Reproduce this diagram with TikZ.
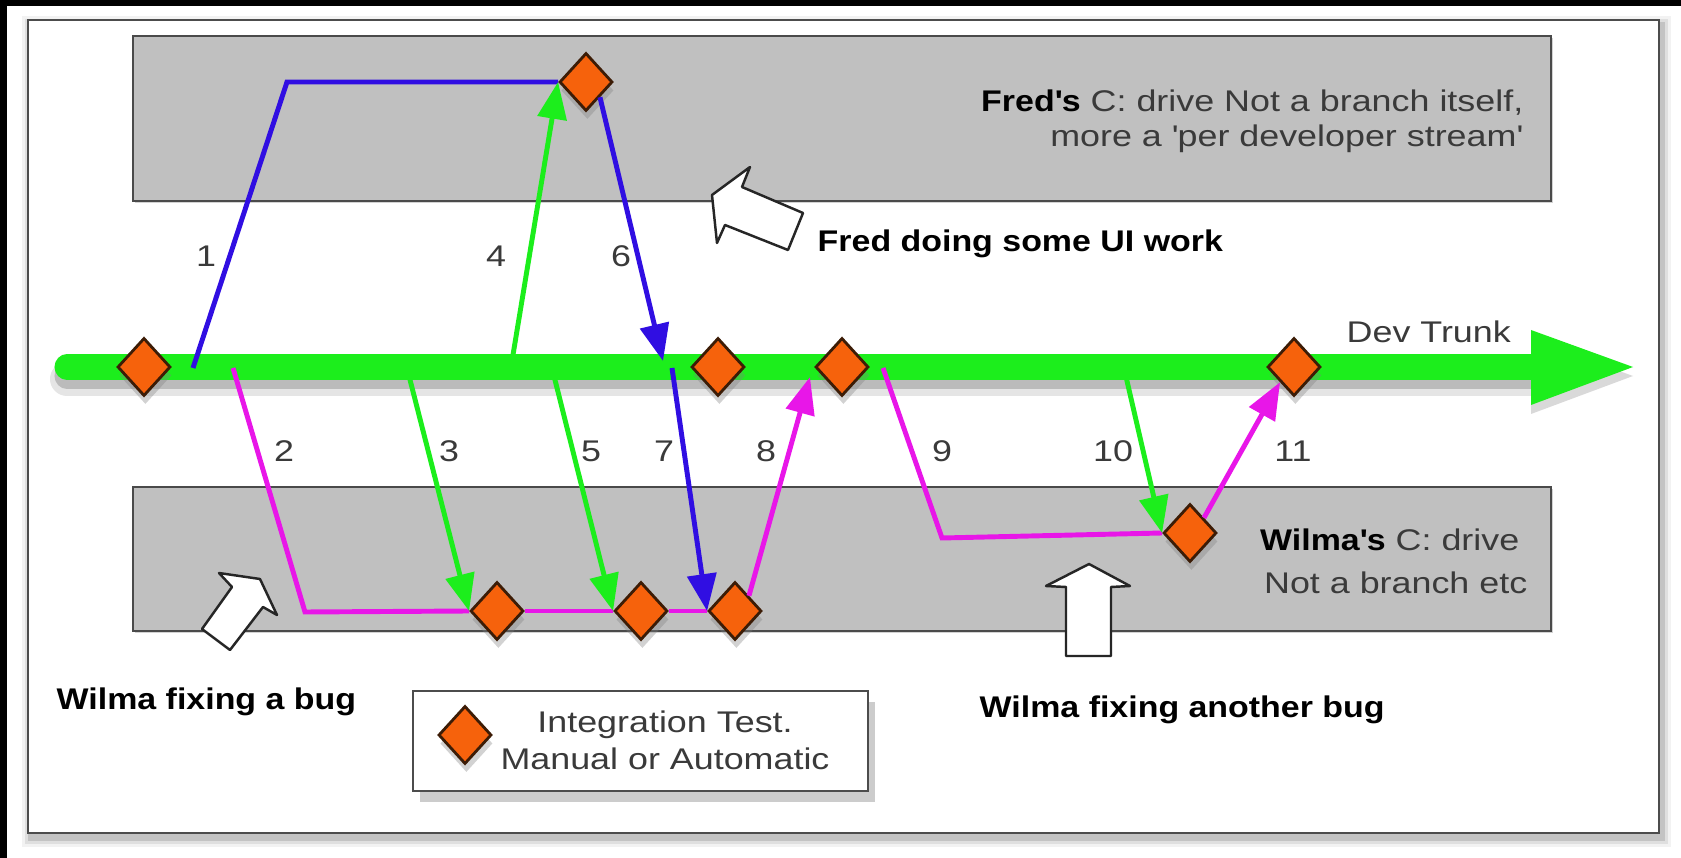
\documentclass[tikz,border=0pt]{standalone}
\usepackage{fontspec}
\setmainfont[FakeStretch=1.2, BoldFeatures={FakeStretch=1.135}]{Liberation Sans}
\usetikzlibrary{arrows.meta,shapes.geometric,shadows}

\definecolor{trunkgreen}{RGB}{28,238,28}
\definecolor{fixpink}{RGB}{232,22,232}
\definecolor{uiblue}{RGB}{48,14,226}
\definecolor{drivegray}{RGB}{192,192,192}
\definecolor{driveedge}{RGB}{74,74,74}
\definecolor{testorange}{RGB}{246,98,12}
\definecolor{testedge}{RGB}{60,28,6}
\definecolor{labelgray}{RGB}{58,58,58}

\newcommand{\plainsize}{\fontsize{8.5pt}{10pt}\selectfont}

\tikzset{
  drive/.style={draw=driveedge, fill=drivegray, line width=0.8pt,
    drop shadow={shadow xshift=0.7pt, shadow yshift=-0.7pt, opacity=0.35}},
  itest/.style={diamond, draw=testedge, fill=testorange, line width=0.8pt,
    minimum width=0.53cm, minimum height=0.58cm, inner sep=0pt,
    drop shadow={shadow xshift=0.4pt, shadow yshift=-2.4pt, opacity=0.35}},
  flow/.style={line width=1.4pt},
  headed/.style={-{Triangle[length=10.5pt,width=8.2pt]}},
  num/.style={text=labelgray, inner sep=0pt, anchor=base, font=\plainsize},
  note/.style={inner sep=0pt, font=\plainsize\bfseries},
  hint/.style={draw=black!85, fill=white, line width=0.7pt, line join=round}
}

\begin{document}
\begin{tikzpicture}[x=0.01cm, y=-0.01cm]
    \useasboundingbox (0,0) rectangle (1681,858);

    % Add page and panel
    \fill[white] (0,0) rectangle (1681,858);
    \fill[black] (0,0) rectangle (1681,6);
    \fill[black] (0,0) rectangle (7,858);
    \fill[black, opacity=0.05] (22,16) rectangle (1671,847);
    \fill[black, opacity=0.08] (25,19) rectangle (1668,844);
    \fill[black, opacity=0.12] (28,22) rectangle (1665,841);
    \draw[black!70, fill=white, line width=0.6pt] (28,20) rectangle (1659,833);

    % Add the developer drives
    \draw[drive] (133,36) rectangle (1551,201);
    \draw[drive] (133,487) rectangle (1551,631);

    % Add the trunk
    \coordinate (trunkstart) at (67,367);
    \coordinate (trunkend) at (1531,367);
    \draw[black, opacity=0.10, line width=3.4mm, line cap=round] (67,379) -- (1535,379);
    \draw[black, opacity=0.18, line width=2.5mm, line cap=round] (67,376) -- (1535,376);
    \fill[black, opacity=0.15] (1531,339) -- (1633,376) -- (1531,414) -- cycle;
    \draw[trunkgreen, line width=2.5mm, line cap=round] (trunkstart) -- (trunkend);
    \fill[trunkgreen] (1531,330) -- (1633,367) -- (1531,405) -- cycle;

    % Add the integration tests
    \node[itest] (td1) at (144,367) {};
    \node[itest] (td2) at (718,367) {};
    \node[itest] (td3) at (842,367) {};
    \node[itest] (td4) at (1294,367) {};
    \node[itest] (fd) at (586,82) {};
    \node[itest] (w1) at (497,611) {};
    \node[itest] (w2) at (641,611) {};
    \node[itest] (w3) at (735,611) {};
    \node[itest] (wd) at (1190,533) {};

    % points on the trunk
    \coordinate (s1) at (193,368);
    \coordinate (s2) at (233,368);
    \coordinate (s3) at (407,368);
    \coordinate (s4) at (511,367);
    \coordinate (s5) at (552,368);
    \coordinate (e6) at (663,361);
    \coordinate (s7) at (672,368);
    \coordinate (e8) at (810,377);
    \coordinate (s9) at (883,368);
    \coordinate (s10) at (1124,368);

    % Add the hand-offs
    \draw[flow, uiblue] (s1) -- (287,82) -- (fd.west);
    \draw[flow, fixpink] (s2) -- (305,612) -- (w1.west);
    \draw[flow, fixpink] (w1.east) -- (w2.west);
    \draw[flow, fixpink] (w2.east) -- (w3.west);
    \draw[flow, headed, trunkgreen] (s3) -- (w1.west);
    \draw[flow, headed, trunkgreen] (s4) -- (fd.west);
    \draw[flow, headed, trunkgreen] (s5) -- (w2.west);
    \draw[flow, headed, uiblue] (fd.south east) -- (e6);
    \draw[flow, headed, uiblue] (s7) -- (w3.west);
    \draw[flow, headed, fixpink] (w3.north east) -- (e8);
    \draw[flow, fixpink] (s9) -- (942,538) -- (wd.west);
    \draw[flow, headed, trunkgreen] (s10) -- (wd.west);
    \draw[flow, headed, fixpink] (wd.north east) -- (td4.south west);

    % Add the hint arrows
    \draw[hint] (712,195) -- (750,167) -- (742,187) -- (803,213) -- (788,250) -- (725,225) -- (717,243) -- cycle;
    \draw[hint] (260,579) -- (277,615) -- (263,607) -- (230,650) -- (202,629) -- (232,587) -- (219,573) -- cycle;
    \draw[hint] (1089,564) -- (1130,586) -- (1111,587) -- (1111,656) -- (1066,656) -- (1066,587) -- (1046,586) -- cycle;

    % Add the legend
    \draw[black!70, fill=white, line width=0.6pt,
      drop shadow={shadow xshift=2pt, shadow yshift=-3pt, opacity=0.4}] (413,691) rectangle (868,791);
    \node[itest] (ld) at (465,735) {};
    \node[num] (legendtop) at (665,732) {Integration Test.};
    \node[num] (legendbottom) at (665,770) {Manual or Automatic};

    % labels for the hand-offs
    \node[num] (n1) at (206,267) {1};
    \node[num] (n4) at (496,267) {4};
    \node[num] (n6) at (621,267) {6};
    \node[num] (n2) at (284,462) {2};
    \node[num] (n3) at (449,462) {3};
    \node[num] (n5) at (591,462) {5};
    \node[num] (n7) at (664,462) {7};
    \node[num] (n8) at (766,462) {8};
    \node[num] (n9) at (942,462) {9};
    \node[num] (n10) at (1113,462) {10};
    \node[num] (n11) at (1293,462) {11};

    % Add the notes
    \node[num, anchor=base east] (fredline1) at (1524,112) {\textcolor{black}{\bfseries Fred\textquotesingle s} C: drive Not a branch itself,};
    \node[num, anchor=base east] (fredline2) at (1523,147) {more a \textquotesingle per developer stream\textquotesingle};
    \node[num, anchor=base east] (wilmaline1) at (1520,551) {\textcolor{black}{\bfseries Wilma\textquotesingle s} C: drive};
    \node[num, anchor=base east] (wilmaline2) at (1528,594) {Not a branch etc};
    \node[num, anchor=base west] (trunklabel) at (1346,343) {Dev Trunk};
    \node[note, anchor=base west] (fredwork) at (817,252) {Fred doing some UI work};
    \node[note, anchor=base west] (wilmabug) at (56,710) {Wilma fixing a bug};
    \node[note, anchor=base west] (wilmabug2) at (979,718) {Wilma fixing another bug};

\end{tikzpicture}
\end{document}
